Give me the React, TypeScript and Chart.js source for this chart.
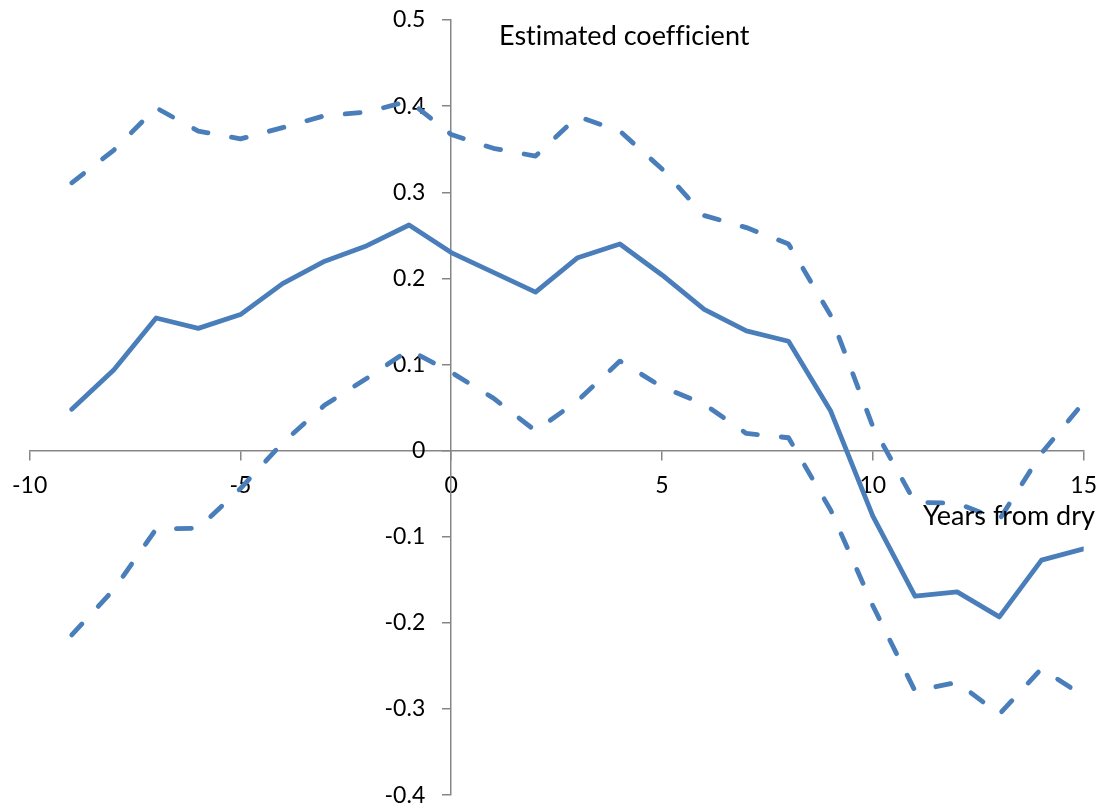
import React, { useEffect, useRef } from "react";
import { Chart, registerables } from "chart.js";

Chart.register(...registerables);

// ---- data ----
const years = [-9, -8, -7, -6, -5, -4, -3, -2, -1, 0, 1, 2, 3, 4, 5, 6, 7, 8, 9, 10, 11, 12, 13, 14, 15];
const estimate = [0.048, 0.094, 0.154, 0.142, 0.158, 0.194, 0.220, 0.238, 0.262, 0.230, 0.207, 0.184, 0.224, 0.240, 0.204, 0.164, 0.139, 0.127, 0.046, -0.076, -0.169, -0.164, -0.193, -0.127, -0.114];
const upperBound = [0.311, 0.349, 0.398, 0.371, 0.362, 0.375, 0.389, 0.393, 0.406, 0.367, 0.351, 0.342, 0.388, 0.371, 0.327, 0.273, 0.259, 0.240, 0.157, 0.028, -0.060, -0.061, -0.080, -0.003, 0.056];
const lowerBound = [-0.214, -0.161, -0.091, -0.090, -0.044, 0.009, 0.053, 0.084, 0.117, 0.091, 0.061, 0.023, 0.058, 0.104, 0.074, 0.054, 0.020, 0.015, -0.069, -0.180, -0.279, -0.269, -0.306, -0.253, -0.285];

const xTicks = [-10, -5, 0, 5, 10, 15];
const xTickLabels = ["-10", "-5", "0", "5", "10", "15"];
const yTicks = [-0.4, -0.3, -0.2, -0.1, 0, 0.1, 0.2, 0.3, 0.4, 0.5];
const yTickLabels = ["-0.4", "-0.3", "-0.2", "-0.1", "0", "0.1", "0.2", "0.3", "0.4", "0.5"];

const yAxisTitle = "Estimated coefficient";
const xAxisTitle = "Years from dry";

// ---- style ----
const LINE_COLOR = "#4A7EBB";
const AXIS_COLOR = "#868686";
const FONT = "Lato, 'Open Sans', sans-serif";
const TICK_SIZE = 23;
const TITLE_SIZE = 27;
const Y_LABEL_GAP = 26;

export default function App() {
  const ref = useRef<HTMLCanvasElement>(null);

  useEffect(() => {
    const toPts = (vals: number[]) => years.map((x, i) => ({ x, y: vals[i] }));

    const yLabelShift = {
      id: "yLabelShift",
      beforeDraw(chart: any) {
        const s = chart.scales.y;
        const items = s.getLabelItems();
        if (!items.__shifted) {
          items.forEach((it: any) => {
            const t = it.options.translation;
            it.options.translation = [t[0] - Y_LABEL_GAP, t[1]];
          });
          items.__shifted = true;
        }
      },
    };

    const titles = {
      id: "axisTitles",
      afterDraw(chart: any) {
        const ctx = chart.ctx;
        ctx.save();
        ctx.fillStyle = "#000";
        ctx.font = `${TITLE_SIZE}px ${FONT}`;
        try {
          (ctx as any).letterSpacing = "0.01px";
        } catch (e) {}
        ctx.textBaseline = "alphabetic";
        ctx.textAlign = "left";
        ctx.fillText(yAxisTitle, 499, 45);
        ctx.textAlign = "right";
        ctx.fillText(xAxisTitle, 1095, 525);
        ctx.restore();
      },
    };

    const lineBase = {
      borderColor: LINE_COLOR,
      backgroundColor: LINE_COLOR,
      borderWidth: 4.8,
      pointRadius: 0,
      tension: 0,
      fill: false,
      borderCapStyle: "round" as const,
      borderJoinStyle: "round" as const,
    };

    const chart = new Chart(ref.current as HTMLCanvasElement, {
      type: "line",
      data: {
        datasets: [
          { ...lineBase, label: "Upper", data: toPts(upperBound), borderDash: [15, 24] },
          { ...lineBase, label: "Estimate", data: toPts(estimate) },
          { ...lineBase, label: "Lower", data: toPts(lowerBound), borderDash: [15, 24] },
        ],
      },
      options: {
        animation: false,
        responsive: false,
        events: [],
        layout: { padding: { left: 27, right: 20, top: 20, bottom: 15 } },
        plugins: { legend: { display: false }, tooltip: { enabled: false } },
        scales: {
          x: {
            type: "linear",
            min: -10,
            max: 15,
            position: { y: 0 } as any,
            afterBuildTicks: (s: any) => {
              s.ticks = xTicks.map((v) => ({ value: v }));
            },
            ticks: {
              callback: (_v: any, i: number) => xTickLabels[i],
              font: { family: FONT, size: TICK_SIZE },
              color: "#000",
              padding: 12,
              autoSkip: false,
              maxRotation: 0,
            },
            grid: { drawOnChartArea: false, drawTicks: true, tickLength: 9, color: AXIS_COLOR, lineWidth: 1.5 },
            border: { display: true, color: AXIS_COLOR, width: 1.5 },
          },
          y: {
            type: "linear",
            min: -0.4,
            max: 0.5,
            position: { x: 0 } as any,
            afterBuildTicks: (s: any) => {
              s.ticks = yTicks.map((v) => ({ value: v }));
            },
            ticks: {
              callback: (_v: any, i: number) => yTickLabels[i],
              font: { family: FONT, size: TICK_SIZE },
              color: "#000",
              autoSkip: false,
            },
            grid: { drawOnChartArea: false, drawTicks: true, tickLength: 8, color: AXIS_COLOR, lineWidth: 1.5 },
            border: { display: true, color: AXIS_COLOR, width: 1.5 },
          },
        },
      },
      plugins: [yLabelShift, titles],
    });
    return () => chart.destroy();
  }, []);

  return (
    <div style={{ position: "fixed", left: 0, top: 0, width: 1109, height: 812, background: "#fff" }}>
      <canvas ref={ref} width={1109} height={812} style={{ display: "block" }} />
    </div>
  );
}
